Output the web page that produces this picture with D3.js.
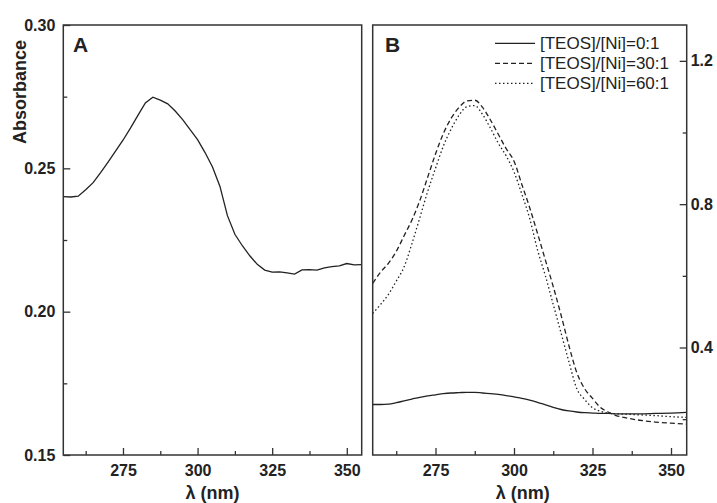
<!DOCTYPE html>
<html>
<head>
<meta charset="utf-8">
<script src="https://cdn.jsdelivr.net/npm/d3@7"></script>
<style>
  body { margin: 0; background: #fff; }
  svg { display: block; font-family: "Liberation Sans", Arial, sans-serif; }
</style>
</head>
<body>
<svg id="chart"></svg>
<script>
// panel A: single spectrum
const wavelengthsA = [255, 257.5, 260, 262.5, 265, 267.5, 270, 272.5, 275, 277.5, 280, 282.5, 285, 287.5, 290, 292.5, 295, 297.5, 300, 302.5, 305, 307.5, 310, 312.5, 315, 317.5, 320, 322.5, 325, 327.5, 330, 332.5, 335, 337.5, 340, 342.5, 345, 347.5, 350, 352.5, 355];
const absorbanceA = [0.2401, 0.2400, 0.2403, 0.2425, 0.2450, 0.2485, 0.2522, 0.2560, 0.2598, 0.2640, 0.2685, 0.2728, 0.2748, 0.2738, 0.2725, 0.2700, 0.2670, 0.2635, 0.2600, 0.2555, 0.2505, 0.2437, 0.2335, 0.2270, 0.2230, 0.2195, 0.2165, 0.2145, 0.2138, 0.2139, 0.2135, 0.2131, 0.2146, 0.2147, 0.2145, 0.2153, 0.2157, 0.2160, 0.2168, 0.2163, 0.2164];

// panel B: three TEOS ratios
const wavelengthsB = [255, 257.5, 260, 262.5, 265, 267.5, 270, 272.5, 275, 277.5, 280, 282.5, 285, 287.5, 290, 292.5, 295, 297.5, 300, 302.5, 305, 307.5, 310, 312.5, 315, 317.5, 320, 322.5, 325, 327.5, 330, 332.5, 335, 340, 345, 350, 355];
const teos0 = [0.241, 0.241, 0.242, 0.246, 0.251, 0.256, 0.261, 0.265, 0.268, 0.271, 0.273, 0.274, 0.275, 0.275, 0.273, 0.271, 0.269, 0.266, 0.262, 0.258, 0.253, 0.247, 0.240, 0.233, 0.227, 0.223, 0.220, 0.218, 0.217, 0.216, 0.216, 0.215, 0.215, 0.215, 0.216, 0.217, 0.219];
const teos30 = [0.579, 0.610, 0.635, 0.668, 0.712, 0.756, 0.810, 0.875, 0.940, 0.997, 1.040, 1.070, 1.088, 1.090, 1.070, 1.035, 0.995, 0.955, 0.920, 0.855, 0.790, 0.718, 0.644, 0.570, 0.490, 0.405, 0.330, 0.285, 0.258, 0.233, 0.220, 0.210, 0.205, 0.197, 0.192, 0.189, 0.186];
const teos60 = [0.495, 0.520, 0.548, 0.585, 0.625, 0.690, 0.762, 0.835, 0.900, 0.962, 1.010, 1.048, 1.072, 1.075, 1.050, 1.012, 0.970, 0.935, 0.890, 0.828, 0.760, 0.672, 0.600, 0.520, 0.440, 0.360, 0.285, 0.255, 0.232, 0.222, 0.217, 0.215, 0.214, 0.212, 0.210, 0.207, 0.205];
const seriesNames = ["[TEOS]/[Ni]=0:1", "[TEOS]/[Ni]=30:1", "[TEOS]/[Ni]=60:1"];

// ticks
const xTicks = [275, 300, 325, 350];
const xMinor = [262.5, 287.5, 312.5, 337.5];
const yTicksA = [0.15, 0.20, 0.25, 0.30];
const yMinorA = [0.175, 0.225, 0.275];
const yTicksB = [0.4, 0.8, 1.2];
const yMinorB = [0.2, 0.6, 1.0];

const width = 717, height = 503;
const plotTop = 25, plotBottom = 455;
const panelA = { left: 63.3, right: 361.7 };
const panelB = { left: 372.7, right: 686.7 };
const ink = "#222";

const svg = d3.select("#chart").attr("width", width).attr("height", height);
svg.append("rect").attr("width", width).attr("height", height).attr("fill", "#fff");

const xA = d3.scaleLinear().domain([255, 355]).range([panelA.left, panelA.right]);
const yA = d3.scaleLinear().domain([0.15, 0.30]).range([plotBottom, plotTop]);
const xB = d3.scaleLinear().domain([255, 355]).range([panelB.left, panelB.right]);
const yB = d3.scaleLinear().domain([0.1, 1.3]).range([plotBottom, plotTop]);

function styleAxis(g) {
  g.select(".domain").remove();
  g.selectAll(".tick line").attr("stroke", "#333").attr("stroke-width", 1.3);
  g.selectAll(".tick text")
    .attr("fill", ink)
    .style("font-size", "16px")
    .style("font-weight", "bold");
}

function drawXAxis(x) {
  svg.append("g")
    .attr("transform", `translate(0,${plotBottom})`)
    .call(d3.axisBottom(x).tickValues(xTicks).tickSize(-7).tickPadding(10).tickFormat(d3.format("d")))
    .call(styleAxis);
  svg.append("g")
    .attr("transform", `translate(0,${plotBottom})`)
    .call(d3.axisBottom(x).tickValues(xMinor).tickSize(-4).tickFormat(""))
    .call(styleAxis);
}

// panel A
drawXAxis(xA);
svg.append("g")
  .attr("transform", `translate(${panelA.left},0)`)
  .call(d3.axisLeft(yA).tickValues(yTicksA).tickSize(-7).tickPadding(8).tickFormat(d3.format(".2f")))
  .call(styleAxis);
svg.append("g")
  .attr("transform", `translate(${panelA.left},0)`)
  .call(d3.axisLeft(yA).tickValues(yMinorA).tickSize(-4).tickFormat(""))
  .call(styleAxis);

const lineA = d3.line()
  .x((d, i) => xA(wavelengthsA[i]))
  .y(d => yA(d));

svg.append("path")
  .datum(absorbanceA)
  .attr("d", lineA)
  .attr("fill", "none")
  .attr("stroke", ink)
  .attr("stroke-width", 1.3);

// panel B
drawXAxis(xB);
svg.append("g")
  .attr("transform", `translate(${panelB.right},0)`)
  .call(d3.axisRight(yB).tickValues(yTicksB).tickSize(-7).tickPadding(4).tickFormat(d3.format(".1f")))
  .call(styleAxis);
svg.append("g")
  .attr("transform", `translate(${panelB.right},0)`)
  .call(d3.axisRight(yB).tickValues(yMinorB).tickSize(-4).tickFormat(""))
  .call(styleAxis);

const lineB = d3.line()
  .x((d, i) => xB(wavelengthsB[i]))
  .y(d => yB(d))
  .curve(d3.curveMonotoneX);

const seriesB = [
  { name: seriesNames[0], values: teos0, dash: null },
  { name: seriesNames[1], values: teos30, dash: "5,3" },
  { name: seriesNames[2], values: teos60, dash: "1.5,2.5" }
];

svg.append("g")
  .selectAll("path")
  .data(seriesB)
  .enter().append("path")
  .attr("d", d => lineB(d.values))
  .attr("fill", "none")
  .attr("stroke", ink)
  .attr("stroke-width", 1.3)
  .attr("stroke-dasharray", d => d.dash);

// frames
[panelA, panelB].forEach(p => {
  svg.append("rect")
    .attr("x", p.left).attr("y", plotTop)
    .attr("width", p.right - p.left).attr("height", plotBottom - plotTop)
    .attr("fill", "none")
    .attr("stroke", "#333")
    .attr("stroke-width", 1.5);
});

// panel letters
svg.append("text").attr("x", 73).attr("y", 52).text("A")
  .attr("fill", ink).style("font-size", "21px").style("font-weight", "bold");
svg.append("text").attr("x", 385).attr("y", 52).text("B")
  .attr("fill", ink).style("font-size", "21px").style("font-weight", "bold");

// legend
const legend = svg.append("g")
  .selectAll("g")
  .data(seriesB)
  .enter().append("g")
  .attr("transform", (d, i) => `translate(495,${43.3 + i * 20})`);
legend.append("line")
  .attr("x1", 0).attr("x2", 40)
  .attr("stroke", ink)
  .attr("stroke-width", 1.3)
  .attr("stroke-dasharray", d => d.dash);
legend.append("text")
  .attr("x", 45)
  .attr("dy", "0.35em")
  .attr("fill", ink)
  .style("font-size", "17px")
  .text(d => d.name);

// axis titles
svg.append("text")
  .attr("transform", "translate(26,92) rotate(-90)")
  .attr("text-anchor", "middle")
  .attr("fill", ink)
  .style("font-size", "18px")
  .style("font-weight", "bold")
  .text("Absorbance");
svg.append("text")
  .attr("x", (panelA.left + panelA.right) / 2).attr("y", 499)
  .attr("text-anchor", "middle")
  .attr("fill", ink)
  .style("font-size", "18px")
  .style("font-weight", "bold")
  .text("λ (nm)");
svg.append("text")
  .attr("x", (panelB.left + panelB.right) / 2 - 7).attr("y", 499)
  .attr("text-anchor", "middle")
  .attr("fill", ink)
  .style("font-size", "18px")
  .style("font-weight", "bold")
  .text("λ (nm)");
</script>
</body>
</html>
